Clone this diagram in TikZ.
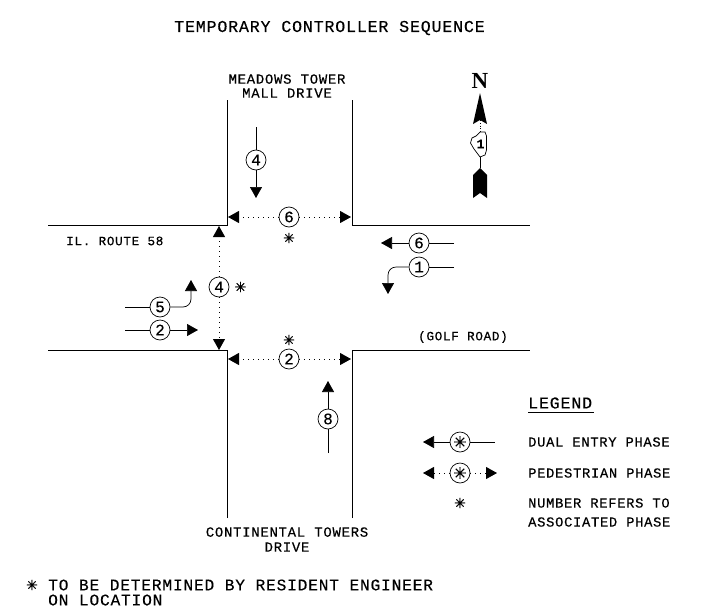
\documentclass[tikz,border=0pt]{standalone}
\usepackage{fontspec}
\usetikzlibrary{arrows.meta,positioning}
\newfontfamily\cadfont[LetterSpace=5,FakeBold=.25]{Liberation Mono}
\newfontfamily\starfont[FakeBold=1.2]{DejaVu Sans}
\newfontfamily\northfont{Liberation Serif}
\newcommand{\phasestar}{{\starfont\symbol{"2733}}}

\begin{document}
\begin{tikzpicture}[x=1pt,y=-1pt]
        \tikzset{label/.style={font=\cadfont\fontsize{14}{15}\selectfont, align=center, inner sep=0pt},
        roadname/.style={font=\cadfont\fontsize{12.7}{13}\selectfont, anchor=west, inner sep=0pt},
        legendtext/.style={font=\cadfont\fontsize{13.8}{14}\selectfont, anchor=west, inner sep=0pt},
        phase/.style={draw, circle, inner sep=0pt, minimum size=20pt, line width=.7pt, font=\cadfont\fontsize{16}{16}\selectfont},
        star/.style={inner sep=0pt, font=\fontsize{14}{14}\selectfont},
        wall/.style={draw, line width=.9pt},
        tail/.style={draw, line width=.7pt},
        move/.style={draw, line width=.7pt, ->},
        ped/.style={draw, line width=.9pt, dash pattern=on 1pt off 4pt, ->},
        >={Triangle[length=11pt,width=12pt]},
        }
        \useasboundingbox (0,0) rectangle (719,613);

        \node [font=\cadfont\fontsize{16.6}{17}\selectfont, inner sep=0pt] (title) at (329.5,28) {TEMPORARY CONTROLLER SEQUENCE};

%% road edges
        \coordinate (nwtop) at (227,100);
        \coordinate (nwcorner) at (227,225);
        \coordinate (nwend) at (48,225);
        \coordinate (netop) at (352,100);
        \coordinate (necorner) at (352,225);
        \coordinate (neend) at (530,225);
        \coordinate (swbot) at (227,518);
        \coordinate (swcorner) at (227,350);
        \coordinate (swend) at (48,350);
        \coordinate (sebot) at (352,518);
        \coordinate (secorner) at (352,350);
        \coordinate (seend) at (530,350);
        \path[wall] (nwtop) -- (nwcorner) -- (nwend);
        \path[wall] (netop) -- (necorner) -- (neend);
        \path[wall] (swbot) -- (swcorner) -- (swend);
        \path[wall] (sebot) -- (secorner) -- (seend);

%% road names
        \node [label] (meadows) at (287,86) {MEADOWS TOWER\\[-1pt]MALL DRIVE};
        \node [label] (continental) at (287,539.5) {CONTINENTAL TOWERS\\DRIVE};
        \node [roadname] (route) at (66,241) {IL. ROUTE 58};
        \node [roadname] (golf) at (418,337) {(GOLF ROAD)};

%% phases
        \node [phase] (southfour) at (256,160) {4};
        \node [phase] (pedsix) at (289,217) {6};
        \node [star] (starsix) at (289,238) {\phasestar};
        \node [phase] (westsix) at (419,243) {6};
        \node [phase] (westone) at (419,267) {1};
        \node [phase] (pedfour) at (219,287) {4};
        \node [star, right =5pt of pedfour] (starfour) {\phasestar};
        \node [phase] (eastfive) at (160,307) {5};
        \node [phase] (easttwo) at (160,330) {2};
        \node [star] (startwo) at (289,340) {\phasestar};
        \node [phase] (pedtwo) at (289,359) {2};
        \node [phase] (northeight) at (328,419) {8};

        \coordinate (southfourtail) at (256,127);
        \coordinate (southfourtip) at (256,198);
        \coordinate (westsixtail) at (454,243);
        \coordinate (westsixtip) at (381,243);
        \coordinate (westonetail) at (454,267);
        \coordinate (westonetip) at (388,294);
        \coordinate (eastfivetail) at (125,307);
        \coordinate (eastfivetip) at (191,280);
        \coordinate (easttwotail) at (125,330);
        \coordinate (easttwotip) at (198,330);
        \coordinate (northeighttail) at (328,453);
        \coordinate (northeighttip) at (328,381);
        \coordinate (pedsixleft) at (228,217);
        \coordinate (pedsixright) at (351,217);
        \coordinate (pedtwoleft) at (228,359);
        \coordinate (pedtworight) at (351,359);
        \coordinate (pedfourtop) at (219,226);
        \coordinate (pedfourbot) at (219,350);

%% paths
        \path[tail] (southfourtail) -- (southfour);
        \path[move] (southfour) -- (southfourtip);
        \path[tail] (westsixtail) -- (westsix);
        \path[move] (westsix) -- (westsixtip);
        \path[tail] (westonetail) -- (westone);
        \path[move, rounded corners=8pt] (westone) -| (westonetip);
        \path[tail] (eastfivetail) -- (eastfive);
        \path[move, rounded corners=8pt] (eastfive) -| (eastfivetip);
        \path[tail] (easttwotail) -- (easttwo);
        \path[move] (easttwo) -- (easttwotip);
        \path[tail] (northeighttail) -- (northeight);
        \path[move] (northeight) -- (northeighttip);
        \path[ped] (pedsix) -- (pedsixleft);
        \path[ped] (pedsix) -- (pedsixright);
        \path[ped] (pedtwo) -- (pedtwoleft);
        \path[ped] (pedtwo) -- (pedtworight);
        \path[ped] (pedfour) -- (pedfourtop);
        \path[ped] (pedfour) -- (pedfourbot);

%% north arrow
        \node [font=\northfont\bfseries\fontsize{23}{23}\selectfont, inner sep=0pt] (north) at (480,81) {N};
        \coordinate (mastnotch) at (480,120);
        \coordinate (masttail) at (480,168);
        \fill (480,93) -- (487,124) -- (mastnotch) -- (473,124) -- cycle;
        \fill (masttail) -- (487,175) -- (487,198) -- (480,193) -- (473,198) -- (473,175) -- cycle;
        \node [inner sep=0pt, font=\cadfont\bfseries\fontsize{13}{13}\selectfont] (stateone) at (480.5,144) {1};
        \coordinate (statetop) at (480,132);
        \coordinate (statebot) at (480,157);
        \path[draw, dotted, line width=.8pt] (mastnotch) -- (statetop);
        \path[tail] (statebot) -- (masttail);
        \draw[line width=.7pt] (statetop) -- (485,132) -- (486.5,136) -- (486.5,150) -- (485,155) -- (statebot)
            -- (477,153) -- (474,149) -- (470.5,143) -- (472,138) -- (476,136) -- cycle;

%% legend
        \node [legendtext, font=\cadfont\fontsize{16.6}{17}\selectfont] (legendhead) at (528,403) {LEGEND};
        \coordinate (legendrulea) at (528,412);
        \coordinate (legendruleb) at (594,412);
        \path[draw, line width=.6pt] (legendrulea) -- (legendruleb);
        \node [phase] (dualcirc) at (460,442) {\phasestar};
        \node [phase] (pedcirc) at (460,473) {\phasestar};
        \node [star] (legendstar) at (460,503) {\phasestar};
        \coordinate (dualtip) at (423,442);
        \coordinate (dualtail) at (495,442);
        \coordinate (pedlefttip) at (423,473);
        \coordinate (pedrighttip) at (497,473);
        \path[move] (dualcirc) -- (dualtip);
        \path[tail] (dualcirc) -- (dualtail);
        \path[ped] (pedcirc) -- (pedlefttip);
        \path[ped] (pedcirc) -- (pedrighttip);
        \node [legendtext] (dualtext) at (528,442) {DUAL ENTRY PHASE};
        \node [legendtext] (pedtext) at (528,473) {PEDESTRIAN PHASE};
        \node [legendtext] (numbertext) at (528,503) {NUMBER REFERS TO};
        \node [legendtext] (assoctext) at (528,522) {ASSOCIATED PHASE};

%% note
        \node [star] (notestar) at (32,585) {\phasestar};
        \node [legendtext, font=\cadfont\fontsize{16.2}{15}\selectfont, align=left] (note) at (48,592.5) {TO BE DETERMINED BY RESIDENT ENGINEER\\ON LOCATION};
    \end{tikzpicture}
\end{document}
